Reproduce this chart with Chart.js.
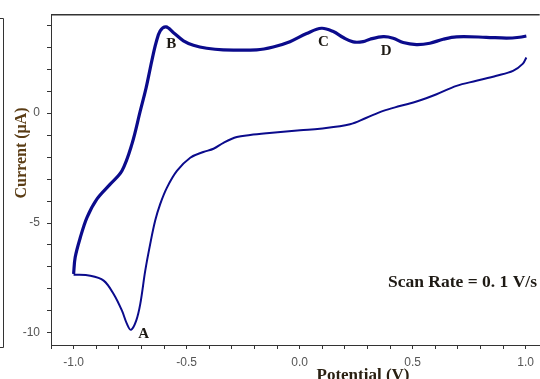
<!DOCTYPE html>
<html>
<head>
<meta charset="utf-8">
<script src="https://cdn.jsdelivr.net/npm/chart.js@4.4.1/dist/chart.umd.min.js"></script>
<style>
  html, body { margin: 0; padding: 0; background: #fff; overflow: hidden; }
  #cv { display: block; }
</style>
</head>
<body>
<canvas id="cv" width="540" height="379"></canvas>
<script>
// upper branch: from -1.0 V up through B, C, D to +1.0 V
const upperPotential = [-1.000, -0.993, -0.970, -0.941, -0.897, -0.838, -0.786, -0.742, -0.705, -0.679,
  -0.654, -0.635, -0.617, -0.591, -0.558, -0.514, -0.470, -0.411, -0.338, -0.190,
  -0.117, -0.043, 0.031, 0.097, 0.149, 0.193, 0.237, 0.281, 0.311, 0.370,
  0.414, 0.458, 0.517, 0.576, 0.635, 0.694, 0.826, 0.915, 0.973, 1.003];
const upperCurrent = [-7.32, -6.56, -5.65, -4.75, -3.91, -3.23, -2.62, -1.41, 0.10, 1.16,
  2.38, 3.21, 3.74, 3.92, 3.66, 3.29, 3.09, 2.95, 2.88, 2.88,
  3.01, 3.25, 3.62, 3.86, 3.71, 3.44, 3.24, 3.25, 3.36, 3.48,
  3.41, 3.21, 3.12, 3.18, 3.36, 3.47, 3.45, 3.41, 3.45, 3.51];

// lower branch: from -1.0 V down through A and back up to +1.0 V
const lowerPotential = [-1.000, -0.926, -0.867, -0.823, -0.786, -0.764, -0.746, -0.723, -0.705, -0.683,
  -0.661, -0.639, -0.617, -0.587, -0.543, -0.484, -0.426, -0.381, -0.337, -0.278,
  -0.219, -0.146, 0.002, 0.090, 0.223, 0.296, 0.370, 0.443, 0.524,
  0.606, 0.694, 0.782, 0.871, 0.944, 0.988, 1.003];
const lowerCurrent = [-7.35, -7.40, -7.62, -8.23, -8.99, -9.59, -9.86, -9.44, -8.68, -7.17,
  -5.95, -4.89, -4.14, -3.39, -2.63, -2.03, -1.77, -1.62, -1.35, -1.09,
  -1.00, -0.92, -0.78, -0.71, -0.51, -0.21, 0.10, 0.32, 0.55,
  0.86, 1.24, 1.47, 1.70, 1.92, 2.25, 2.53];

// tick labels
const xMajorStep = 0.5;
const yMajorStep = 5;

// peak letters (anchor = left end of the text baseline, in data units)
const peakNames = ['A', 'B', 'C', 'D'];
const peakPotential = [-0.714, -0.590, 0.081, 0.359];
const peakCurrent = [-10.22, 2.96, 3.05, 2.64];

const scanRateText = 'Scan Rate = 0. 1 V/s';
const xTitle = 'Potential (V)';
const yTitle = 'Current (\u03bcA)';

const lineColor = '#0b0b8c';
const axisColor = '#333333';

function toPoints(xs, ys) {
  return xs.map((x, i) => ({ x: x, y: ys[i] }));
}

function isMultiple(v, step) {
  const r = v / step;
  return Math.abs(r - Math.round(r)) < 1e-6;
}

// extra text and frame lines
const decor = {
  id: 'decor',
  afterDraw(chart) {
    const ctx = chart.ctx;
    const area = chart.chartArea;
    const xs = chart.scales.x;
    const ys = chart.scales.y;
    ctx.save();

    // top border of the plot box
    ctx.strokeStyle = axisColor;
    ctx.lineWidth = 1.5;
    ctx.beginPath();
    ctx.moveTo(area.left, area.top + 0.5);
    ctx.lineTo(area.right, area.top + 0.5);
    ctx.stroke();

    // thin frame edge at far left
    ctx.lineWidth = 1;
    ctx.beginPath();
    ctx.moveTo(0, 18.5);
    ctx.lineTo(3.5, 18.5);
    ctx.lineTo(3.5, 347.5);
    ctx.lineTo(0, 347.5);
    ctx.stroke();

    // peak letters
    ctx.fillStyle = '#1e1a14';
    ctx.font = 'bold 15px "Liberation Serif", "Times New Roman", serif';
    ctx.textAlign = 'left';
    ctx.textBaseline = 'alphabetic';
    peakNames.forEach((name, i) => {
      ctx.fillText(name, xs.getPixelForValue(peakPotential[i]), ys.getPixelForValue(peakCurrent[i]));
    });

    // scan rate note
    ctx.font = 'bold 17.5px "Liberation Serif", "Times New Roman", serif';
    ctx.fillText(scanRateText, 388, 287);

    // x axis title
    ctx.font = 'bold 17px "Liberation Serif", "Times New Roman", serif';
    ctx.textAlign = 'center';
    ctx.fillStyle = '#2a2012';
    ctx.fillText(xTitle, 363, 380);

    // y axis title
    ctx.font = 'bold 16px "Liberation Serif", "Times New Roman", serif';
    ctx.fillStyle = '#5a3c14';
    ctx.translate(26, 153);
    ctx.rotate(-Math.PI / 2);
    ctx.fillText(yTitle, 0, 0);

    ctx.restore();
  }
};

const ctx = document.getElementById('cv').getContext('2d');
new Chart(ctx, {
  type: 'scatter',
  data: {
    datasets: [
      {
        data: toPoints(upperPotential, upperCurrent),
        showLine: true,
        borderColor: lineColor,
        borderWidth: 3.2,
        pointRadius: 0,
        tension: 0.35,
        fill: false
      },
      {
        data: toPoints(lowerPotential, lowerCurrent),
        showLine: true,
        borderColor: lineColor,
        borderWidth: 2,
        pointRadius: 0,
        tension: 0.35,
        fill: false
      }
    ]
  },
  options: {
    responsive: false,
    animation: false,
    layout: { padding: { top: 13, left: 0, right: 0, bottom: 0 } },
    plugins: {
      legend: { display: false },
      tooltip: { enabled: false }
    },
    scales: {
      x: {
        type: 'linear',
        min: -1.1,
        max: 1.062,
        afterFit: (scale) => { scale.height = 34; },
        ticks: {
          stepSize: 0.1,
          includeBounds: false,
          autoSkip: false,
          maxRotation: 0,
          padding: 6,
          color: '#555555',
          font: { family: '"Liberation Sans", Arial, sans-serif', size: 12 },
          callback: (v) => isMultiple(v, xMajorStep) ? v.toFixed(1) : ''
        },
        grid: { drawOnChartArea: false, tickLength: 4, color: axisColor },
        border: { color: axisColor, width: 1 }
      },
      y: {
        type: 'linear',
        min: -10.55,
        max: 4.5,
        afterFit: (scale) => { scale.width = 51; },
        ticks: {
          stepSize: 1,
          includeBounds: false,
          autoSkip: false,
          padding: 7,
          color: '#555555',
          font: { family: '"Liberation Sans", Arial, sans-serif', size: 12 },
          callback: (v) => isMultiple(v, yMajorStep) ? String(v) : ''
        },
        grid: { drawOnChartArea: false, tickLength: 4, color: axisColor },
        border: { color: axisColor, width: 1 }
      }
    }
  },
  plugins: [decor]
});
</script>
</body>
</html>
